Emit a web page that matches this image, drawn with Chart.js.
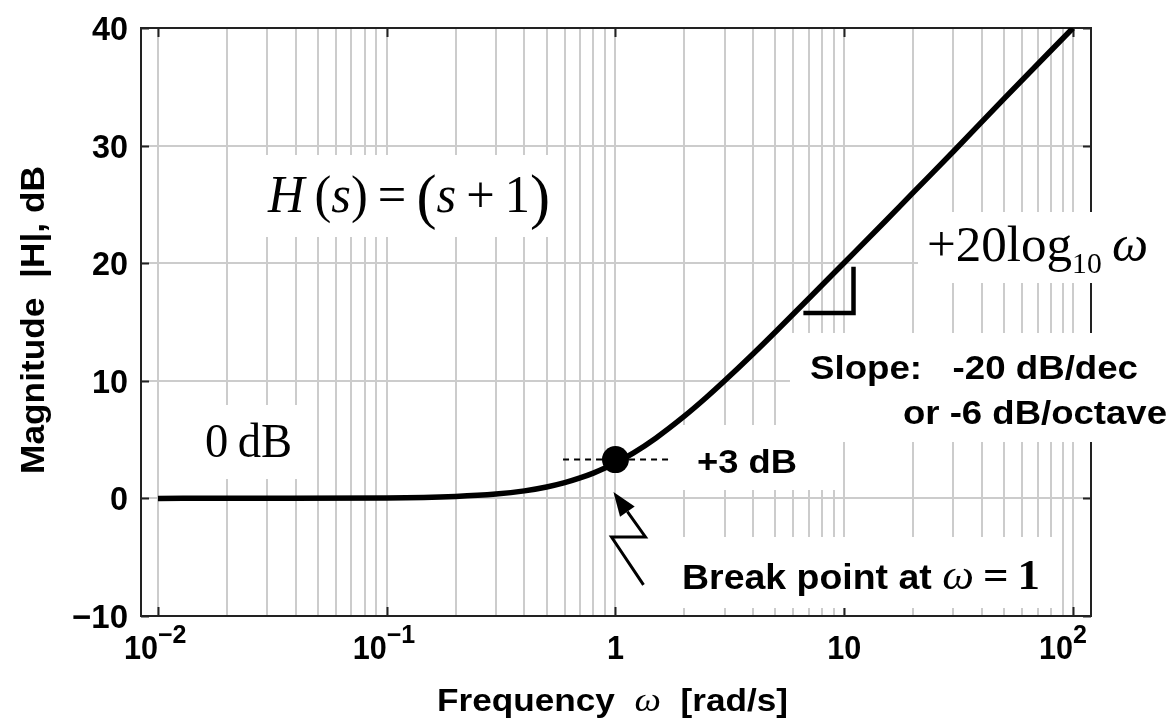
<!DOCTYPE html>
<html>
<head>
<meta charset="utf-8">
<script src="https://cdn.jsdelivr.net/npm/chart.js@4.4.1/dist/chart.umd.min.js"></script>
<style>
  html, body { margin: 0; padding: 0; background: #fff; }
</style>
</head>
<body>
<canvas id="bodeChart" width="1174" height="723"></canvas>
<script>
// Magnitude of H(s) = s + 1
const freq  = [0.01, 0.03, 0.1, 0.2, 0.3, 0.4, 0.5, 0.6, 0.7, 0.8, 0.9, 1, 1.2, 1.5, 2, 2.5, 3, 4, 5, 7, 10, 15, 20, 30, 50, 100];
const magDb = [0, 0.01, 0.04, 0.17, 0.37, 0.64, 0.97, 1.34, 1.74, 2.15, 2.58, 3.01, 3.87, 5.12, 6.99, 8.6, 10.0, 12.3, 14.15, 17.0, 20.04, 23.5, 26.0, 29.5, 34.0, 40.0];

// break point marker and its dashed +3 dB line
const breakW = [1];
const breakDb = [3.3];
const dashW = [0.59, 1.7];
const dashDb = [3.3, 3.3];

// slope corner marker under the asymptote
const slopeW = [6.63, 10.98, 10.98];
const slopeDb = [15.76, 15.76, 19.7];

// zigzag arrow pointing at the break point
const arrowW = [1.326, 0.961, 1.352, 0.98];
const arrowDb = [-7.36, -3.28, -3.28, 0.54];

// axes
const decades = [0.01, 0.1, 1, 10, 100];
const decadeBase = ['10', '10', '1', '10', '10'];
const decadeExp = ['\u22122', '\u22121', '', '', '2'];
const yTicks = [-10, 0, 10, 20, 30, 40];
const yTickLabels = ['\u221210', '0', '10', '20', '30', '40'];

const SANS = '"Liberation Sans", Arial, sans-serif';
const SERIF = '"Liberation Serif", "Times New Roman", serif';

// grid lines at 1..9 of every decade
const gridVals = [];
for (let i = 0; i < decades.length - 1; i++) {
    for (let k = 1; k <= 9; k++) gridVals.push(decades[i] * k);
}
gridVals.push(decades[decades.length - 1]);

function toXY(ws, dbs) {
    return ws.map((w, i) => ({ x: w, y: dbs[i] }));
}

// draws a run of differently styled pieces, squeezed or stretched to a given width
function drawRuns(ctx, parts, x, base, width, align) {
    let w = 0;
    parts.forEach(p => { ctx.font = p[1]; w += ctx.measureText(p[0]).width; });
    const sx = width ? width / w : 1;
    ctx.save();
    ctx.translate(x, base);
    ctx.scale(sx, 1);
    let cx = align === 'right' ? -w : (align === 'center' ? -w / 2 : 0);
    parts.forEach(p => {
        ctx.font = p[1];
        ctx.fillText(p[0], cx, p[2] || 0);
        cx += ctx.measureText(p[0]).width;
    });
    ctx.restore();
}

const whiteBoxes = [
    [262, 155, 296, 82],   // H(s)
    [168, 405, 136, 74],   // 0 dB
    [918, 212, 256, 71],   // +20log10
    [790, 333, 384, 109],  // slope text
    [675, 425, 162, 65],   // +3 dB
    [668, 537, 394, 71]    // break point
];

const decorPlugin = {
    id: 'decor',
    beforeDatasetsDraw(chart) {
        const ctx = chart.ctx;
        const { left, right, top, bottom } = chart.chartArea;
        const xs = chart.scales.x, ys = chart.scales.y;
        ctx.save();
        ctx.strokeStyle = '#222';
        ctx.lineWidth = 2;
        ctx.strokeRect(left, top, right - left, bottom - top);
        ctx.beginPath();
        decades.forEach(d => {
            const px = Math.round(xs.getPixelForValue(d)) + 0.5;
            ctx.moveTo(px, bottom); ctx.lineTo(px, bottom - 9);
            ctx.moveTo(px, top); ctx.lineTo(px, top + 9);
        });
        yTicks.forEach(v => {
            const py = Math.round(ys.getPixelForValue(v)) + 0.5;
            ctx.moveTo(left, py); ctx.lineTo(left + 8, py);
            ctx.moveTo(right, py); ctx.lineTo(right - 8, py);
        });
        ctx.stroke();
        ctx.fillStyle = '#fff';
        whiteBoxes.forEach(b => ctx.fillRect(b[0], b[1], b[2], b[3]));
        ctx.restore();
    },
    afterDatasetsDraw(chart) {
        const ctx = chart.ctx;
        const xs = chart.scales.x, ys = chart.scales.y;
        ctx.save();
        ctx.fillStyle = '#000';
        ctx.textBaseline = 'alphabetic';

        // tick labels
        decades.forEach((d, i) => {
            const px = xs.getPixelForValue(d);
            if (decadeExp[i]) {
                drawRuns(ctx, [[decadeBase[i], 'bold 34px ' + SANS]], px, 659, 34, 'right');
                drawRuns(ctx, [[decadeExp[i], 'bold 25px ' + SANS]], px, 643, 0, 'left');
            } else {
                const w = decadeBase[i].length * 17;
                drawRuns(ctx, [[decadeBase[i], 'bold 34px ' + SANS]], px, 659, w, 'center');
            }
        });
        yTicks.forEach((v, i) => {
            const py = ys.getPixelForValue(v);
            const w = v < 0 ? 56 : yTickLabels[i].length * 18;
            drawRuns(ctx, [[yTickLabels[i], 'bold 33px ' + SANS]], 128, py + 12, w, 'right');
        });

        // axis titles
        drawRuns(ctx, [
            ['Frequency  ', 'bold 31px ' + SANS],
            ['\u03c9', 'italic 33px ' + SERIF],
            ['  [rad/s]', 'bold 31px ' + SANS]
        ], 437, 711, 351, 'left');
        ctx.save();
        ctx.translate(44, 320);
        ctx.rotate(-Math.PI / 2);
        drawRuns(ctx, [['Magnitude  |H|, dB', 'bold 34px ' + SANS]], 0, 0, 308, 'center');
        ctx.restore();

        // annotations
        const f52 = '52px ' + SERIF, i52 = 'italic 52px ' + SERIF, p62 = '62px ' + SERIF;
        drawRuns(ctx, [
            ['H', i52], ['\u2009(', f52], ['s', i52], [')', f52], ['\u2009=\u2009', f52],
            ['(', p62, 5], ['s', i52], ['\u2009+\u20091', f52], [')', p62, 5]
        ], 268, 212, 282, 'left');
        drawRuns(ctx, [['0', '48px ' + SERIF], ['\u2009dB', '48px ' + SERIF]], 205, 457, 87, 'left');
        drawRuns(ctx, [
            ['+20log', '50px ' + SERIF], ['10', '29px ' + SERIF, 12], ['\u2009', '50px ' + SERIF], ['\u03c9', 'italic 50px ' + SERIF]
        ], 927, 261, 221, 'left');
        drawRuns(ctx, [['+3 dB', 'bold 34px ' + SANS]], 697, 473, 100, 'left');
        drawRuns(ctx, [['Slope:   -20 dB/dec', 'bold 34px ' + SANS]], 810, 379, 328, 'left');
        drawRuns(ctx, [['or -6 dB/octave', 'bold 34px ' + SANS]], 903, 424, 264, 'left');
        drawRuns(ctx, [
            ['Break point at ', 'bold 35px ' + SANS],
            ['\u03c9', 'italic 42px ' + SERIF],
            ['\u2009=\u20091', 'bold 42px ' + SERIF]
        ], 682, 589, 358, 'left');

        // zigzag arrow
        const pts = arrowW.map((w, i) => [xs.getPixelForValue(w), ys.getPixelForValue(arrowDb[i])]);
        const tip = pts[pts.length - 1], prev = pts[pts.length - 2];
        const ang = Math.atan2(tip[1] - prev[1], tip[0] - prev[0]);
        const headLen = 24, headW = 9;
        const baseX = tip[0] - headLen * Math.cos(ang), baseY = tip[1] - headLen * Math.sin(ang);
        ctx.strokeStyle = '#000';
        ctx.lineWidth = 3;
        ctx.lineJoin = 'miter';
        ctx.beginPath();
        ctx.moveTo(pts[0][0], pts[0][1]);
        for (let i = 1; i < pts.length - 1; i++) ctx.lineTo(pts[i][0], pts[i][1]);
        ctx.lineTo(baseX, baseY);
        ctx.stroke();
        ctx.beginPath();
        ctx.moveTo(tip[0], tip[1]);
        ctx.lineTo(baseX + headW * Math.sin(ang), baseY - headW * Math.cos(ang));
        ctx.lineTo(baseX - headW * Math.sin(ang), baseY + headW * Math.cos(ang));
        ctx.closePath();
        ctx.fill();
        ctx.restore();
    }
};

new Chart(document.getElementById('bodeChart'), {
    type: 'line',
    data: {
        datasets: [
            {
                data: toXY(freq, magDb),
                borderColor: '#000',
                borderWidth: 5.5,
                pointRadius: 0,
                cubicInterpolationMode: 'monotone',
                order: 1
            },
            {
                data: toXY(breakW, breakDb),
                showLine: false,
                pointRadius: 13.5,
                pointBackgroundColor: '#000',
                pointBorderWidth: 0,
                order: 0
            },
            {
                data: toXY(dashW, dashDb),
                borderColor: '#000',
                borderWidth: 2,
                borderDash: [6, 5],
                pointRadius: 0,
                order: 2
            },
            {
                data: toXY(slopeW, slopeDb),
                borderColor: '#000',
                borderWidth: 4.5,
                borderJoinStyle: 'miter',
                pointRadius: 0,
                order: 1
            }
        ]
    },
    options: {
        responsive: false,
        animation: false,
        devicePixelRatio: 1,
        layout: { padding: { left: 141, right: 83, top: 28, bottom: 107 } },
        plugins: {
            legend: { display: false },
            tooltip: { enabled: false }
        },
        scales: {
            x: {
                type: 'logarithmic',
                min: 0.00843,
                max: 119.9,
                afterBuildTicks: s => { s.ticks = gridVals.map(v => ({ value: v })); },
                afterFit: s => { s.height = 0; },
                ticks: { display: false },
                grid: { color: '#cccccc', lineWidth: 2, drawTicks: false },
                border: { display: false }
            },
            y: {
                type: 'linear',
                min: -10,
                max: 40,
                afterBuildTicks: s => { s.ticks = yTicks.map(v => ({ value: v })); },
                afterFit: s => { s.width = 0; },
                ticks: { display: false },
                grid: { color: '#cccccc', lineWidth: 2, drawTicks: false },
                border: { display: false }
            }
        }
    },
    plugins: [decorPlugin]
});
</script>
</body>
</html>
